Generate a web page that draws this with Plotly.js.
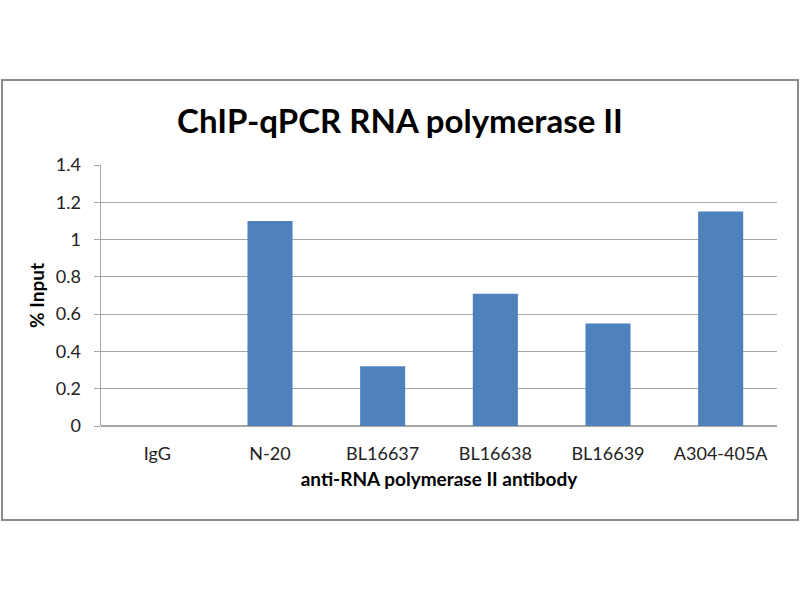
<!DOCTYPE html>
<html>
<head>
<meta charset="utf-8">
<script src="https://cdn.plot.ly/plotly-3.0.1.min.js"></script>
<style>html,body{margin:0;padding:0;background:#fff;}#chart{width:800px;height:600px;}</style>
</head>
<body>
<div id="chart"></div>
<script>
const categories = ["IgG", "N-20", "BL16637", "BL16638", "BL16639", "A304-405A"];
const percentInput = [0, 1.10, 0.32, 0.71, 0.55, 1.15];
const yTickValues = [0, 0.2, 0.4, 0.6, 0.8, 1, 1.2, 1.4];
const yTickLabels = ["0", "0.2", "0.4", "0.6", "0.8", "1", "1.2", "1.4"];

const font = "Lato, 'Open Sans', sans-serif";

const trace = {
  type: "bar",
  x: categories,
  y: percentInput,
  marker: {color: "#4F81BD"},
  hoverinfo: "x+y"
};

const layout = {
  width: 800,
  height: 600,
  margin: {l: 101, r: 23, t: 165, b: 174},
  paper_bgcolor: "#ffffff",
  plot_bgcolor: "#ffffff",
  showlegend: false,
  bargap: 0.6,
  font: {family: font, color: "#222", size: 18},
  title: {
    text: "<b>ChIP-qPCR RNA polymerase II</b>",
    font: {family: font, size: 33, color: "#000"},
    x: 0.5, xref: "container",
    y: 1 - 121/600, yref: "container", yanchor: "middle"
  },
  xaxis: {
    type: "category",
    showgrid: false,
    showline: false,
    ticks: "",
    ticklabelstandoff: 15,
    tickfont: {family: font, size: 18, color: "#222"},
    title: {text: "<b>anti-RNA polymerase II antibody</b>", font: {family: font, size: 19, color: "#000"}, standoff: 9}
  },
  yaxis: {
    range: [0, 1.4],
    tickvals: yTickValues,
    ticktext: yTickLabels,
    showgrid: true,
    gridcolor: "#a6a6a6",
    gridwidth: 1,
    zeroline: true,
    zerolinecolor: "#a6a6a6",
    zerolinewidth: 1.5,
    showline: true,
    linecolor: "#a6a6a6",
    linewidth: 1.5,
    ticks: "outside",
    ticklen: 6,
    tickcolor: "#a6a6a6",
    ticklabelstandoff: 9,
    tickfont: {family: font, size: 18, color: "#222"},
    title: {text: "<b>% Input</b>", font: {family: font, size: 19, color: "#000"}, standoff: 6}
  },
  shapes: [{
    type: "rect",
    xref: "paper", yref: "paper",
    x0: (2 - 101) / 676, x1: (798 - 101) / 676,
    y0: (426 - 520) / 261, y1: (426 - 80) / 261,
    line: {color: "#8a8a8a", width: 2},
    fillcolor: "rgba(0,0,0,0)",
    layer: "below"
  }]
};

Plotly.newPlot("chart", [trace], layout, {displayModeBar: false, staticPlot: true});
</script>
</body>
</html>
